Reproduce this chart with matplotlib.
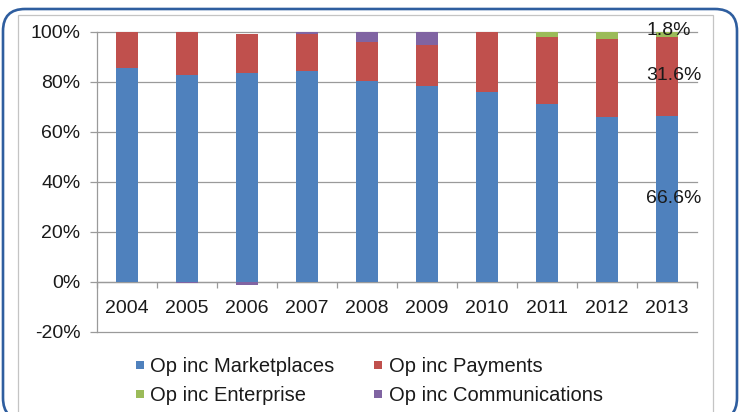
import matplotlib
matplotlib.use("Agg")
import matplotlib.pyplot as plt
import numpy as np
from matplotlib.patches import FancyBboxPatch, Rectangle
from matplotlib.lines import Line2D
from matplotlib.transforms import IdentityTransform
from matplotlib.ticker import FixedLocator, FuncFormatter

years = ["2004", "2005", "2006", "2007", "2008", "2009", "2010", "2011", "2012", "2013"]
marketplaces = [85.6, 82.8, 83.5, 84.5, 80.5, 78.4, 76.1, 71.2, 66.1, 66.6]
payments = [14.4, 17.2, 15.6, 14.6, 15.6, 16.4, 23.9, 26.8, 31.0, 31.6]
enterprise = [0.0, 0.0, 0.0, 0.0, 0.0, 0.0, 0.0, 2.0, 2.9, 1.8]
communications = [0.0, -0.3, -1.2, 0.9, 3.9, 5.2, 0.0, 0.0, 0.0, 0.0]
series_names = ["Op inc Marketplaces", "Op inc Payments", "Op inc Enterprise", "Op inc Communications"]
colors = ["#4F81BD", "#C0504D", "#9BBB59", "#8064A2"]
yticks = [-20, 0, 20, 40, 60, 80, 100]

plt.rcParams['font.family'] = ['Liberation Sans', 'DejaVu Sans']

W, H = 747, 412
fig = plt.figure(figsize=(W / 100, H / 100), dpi=100)
fig.patch.set_facecolor("white")

# outer rounded frame and inner chart border
frame = FancyBboxPatch((3, -8), 734, 411, boxstyle="round,pad=0,rounding_size=22",
                       transform=IdentityTransform(), facecolor="white",
                       edgecolor="#2F5E9F", linewidth=1.9, zorder=-2)
fig.patches.append(frame)
inner = Rectangle((18, -8), 695, 405, transform=IdentityTransform(),
                  facecolor="none", edgecolor="#C4C4C4", linewidth=0.9, zorder=-1)
fig.patches.append(inner)

ax = fig.add_axes([97 / W, 80 / H, 600 / W, 300 / H])
ax.set_facecolor("none")
x = np.arange(len(years))
bw = 0.38

series = [marketplaces, payments, enterprise, communications]
pos_bottom = np.zeros(len(years))
neg_bottom = np.zeros(len(years))
for vals, c, name in zip(series, colors, series_names):
    v = np.array(vals, dtype=float)
    b = np.where(v >= 0, pos_bottom, neg_bottom)
    ax.bar(x, v, bw, bottom=b, color=c, label=name, zorder=3, linewidth=0)
    pos_bottom = pos_bottom + np.where(v >= 0, v, 0)
    neg_bottom = neg_bottom + np.where(v < 0, v, 0)

ax.set_xlim(-0.5, len(years) - 0.5)
ax.set_ylim(-20, 100)
ax.yaxis.set_major_locator(FixedLocator(yticks))
ax.yaxis.set_major_formatter(FuncFormatter(lambda v, p: f"{int(v)}%"))
ax.set_axisbelow(True)
for yt in yticks:
    ax.axhline(yt, color="#9A9A9A", linewidth=0.9, zorder=1, clip_on=False)

for s in ["top", "right"]:
    ax.spines[s].set_visible(False)
ax.spines["left"].set_color("#9A9A9A")
ax.spines["left"].set_linewidth(0.9)
ax.spines["bottom"].set_position(("data", 0))
ax.spines["bottom"].set_color("#9A9A9A")
ax.spines["bottom"].set_linewidth(0.9)

ax.set_xticks(x)
ax.set_xticklabels(years)
ax.set_xticks(np.arange(len(years) + 1) - 0.5, minor=True)
ax.tick_params(axis="x", which="major", length=0, pad=13, labelsize=14, labelcolor="#1A1A1A")
ax.tick_params(axis="x", which="minor", length=4.5, color="#9A9A9A", width=0.9, direction="out")
ax.tick_params(axis="y", length=5, color="#9A9A9A", width=0.9, pad=7, labelsize=14, labelcolor="#1A1A1A")

# data labels on last bar
i = len(years) - 1
lab_x = i - 0.35
ax.text(lab_x, marketplaces[i] / 2, f"{marketplaces[i]:.1f}%", ha="left", va="center",
        fontsize=14, color="#1A1A1A", zorder=5)
ax.text(lab_x, marketplaces[i] + payments[i] / 2, f"{payments[i]:.1f}%", ha="left", va="center",
        fontsize=14, color="#1A1A1A", zorder=5)
ax.text(lab_x, marketplaces[i] + payments[i] + enterprise[i] / 2 + 1.5, f"{enterprise[i]:.1f}%",
        ha="left", va="center", fontsize=14, color="#1A1A1A", zorder=5)

handles = [Line2D([], [], marker="s", linestyle="none", markersize=6.2,
                  markerfacecolor=c, markeredgewidth=0) for c in colors]
order = [0, 2, 1, 3]
leg = fig.legend([handles[k] for k in order], [series_names[k] for k in order], ncol=2, loc="center",
                 bbox_to_anchor=(368.5 / W, 31 / H), frameon=False,
                 fontsize=14.5, handlelength=0.55, handletextpad=0.25,
                 columnspacing=1.9, labelspacing=0.5, borderpad=0)
for t in leg.get_texts():
    t.set_color("#1A1A1A")

fig.savefig("out.png", dpi=100, facecolor="white")
